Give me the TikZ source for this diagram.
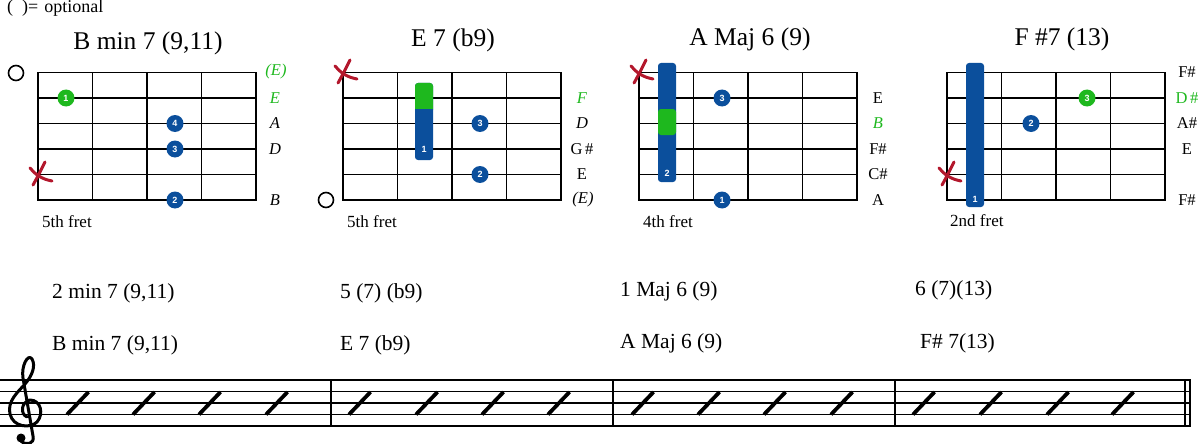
\documentclass[tikz,border=0pt]{standalone}
\usepackage{fontspec}
\setmainfont{Liberation Serif}
\setsansfont{Liberation Sans}
\definecolor{cblue}{HTML}{0B4F9C}
\definecolor{cgreen}{HTML}{1EB81E}
\definecolor{cred}{HTML}{B3172C}
\newcommand\fsz[1]{\fontsize{#1}{#1}\selectfont}
\tikzset{
 gridline/.style={line width=1.8pt, line cap=rect},
 fdot/.style={circle, fill=cblue, minimum size=17pt, inner sep=0pt, text=white, font=\sffamily\bfseries\fsz{9}},
 gdot/.style={fdot, fill=cgreen},
 barnum/.style={text=white, font=\sffamily\bfseries\fsz{9}, inner sep=0pt},
 slab/.style={font=\fsz{16.5}\itshape, inner sep=0pt},
 ulab/.style={font=\fsz{16.5}, inner sep=0pt},
 title/.style={font=\fsz{25.5}, inner sep=0pt},
 fretlab/.style={font=\fsz{17}, anchor=west, inner sep=0pt},
 chordlab/.style={font=\fsz{21.5}, anchor=west, inner sep=0pt},
 xmark/.style={draw=cred, line width=3pt, line cap=round},
 opencirc/.style={circle, draw, line width=1.6pt, minimum size=15pt, inner sep=0pt},
 staffline/.style={line width=1.2pt},
 barline/.style={line width=1.6pt},
 slashmark/.style={line width=3.8pt},
}
\newcommand\fretgrid[1]{%
 \foreach \i in {0,...,5} \draw[gridline] (#1,72.5+25.5*\i) -- (#1+218,72.5+25.5*\i);
 \foreach \j in {0,...,4} \draw[gridline] (#1+54.5*\j,72.5) -- (#1+54.5*\j,200);}
\newcommand\xmarkat[1]{%
 \begin{scope}[shift={#1}]
 \draw[xmark] (7,-12) .. controls (3,-4) and (-1,4) .. (-5,11);
 \draw[xmark] (-8,-6) .. controls (-3,0) and (3,5) .. (14,7);
 \end{scope}}
\begin{document}
\begin{tikzpicture}[x=1pt,y=-1pt]
\useasboundingbox (0,0) rectangle (1200,444);
\node[fretlab, font=\fsz{18}] (legend) at (7,8) {(\hspace{9pt})=\hspace{6pt}optional};
% ---------- diagram 1
\node[title] (t1) at (148,43) {B min 7 (9,11)};
\fretgrid{38}
\node[opencirc] (o1) at (16,73) {};
\xmarkat{(38,174)}
\node[gdot] (d1a) at (66,98) {1};
\node[fdot] (d1b) at (175,123.5) {4};
\node[fdot] (d1c) at (175,149) {3};
\node[fdot] (d1d) at (175,200) {2};
\node[slab,text=cgreen] (l1a) at (276,72) {(E)};
\node[slab,text=cgreen] (l1b) at (275,98) {E};
\node[slab] (l1c) at (275,123.5) {A};
\node[slab] (l1d) at (275,149) {D};
\node[slab] (l1f) at (275,200) {B};
\node[fretlab] (f1) at (42,222) {5th fret};
% ---------- diagram 2
\node[title] (t2) at (453,40) {E 7 (b9)};
\fretgrid{343}
\node[opencirc] (o2) at (326,200) {};
\xmarkat{(343,72)}
\fill[cblue, rounded corners=3pt] (415,83) rectangle (433,160);
\fill[cgreen, rounded corners=3pt] (415,83) rectangle (433,113);
\fill[cblue] (415,109) rectangle (433,116);
\node[barnum] (b2) at (424,149) {1};
\node[fdot] (d2a) at (480,123.5) {3};
\node[fdot] (d2b) at (480,174.5) {2};
\node[slab,text=cgreen] (l2b) at (582,98) {F};
\node[slab] (l2c) at (582,123.5) {D};
\node[ulab] (l2d) at (582,149) {G\,\#};
\node[ulab] (l2e) at (582,174.5) {E};
\node[slab] (l2f) at (583,200) {(E)};
\node[fretlab] (f2) at (347,222) {5th fret};
% ---------- diagram 3
\node[title] (t3) at (750,39) {A Maj 6 (9)};
\fretgrid{639}
\xmarkat{(639,72)}
\fill[cblue, rounded corners=3pt] (658,63) rectangle (676,182);
\fill[cgreen, rounded corners=3pt] (658,109) rectangle (676,135);
\node[barnum] (b3) at (667,173) {2};
\node[fdot] (d3a) at (722,98) {3};
\node[fdot] (d3b) at (722,200) {1};
\node[ulab] (l3b) at (878,98) {E};
\node[slab,text=cgreen] (l3c) at (878,123.5) {B};
\node[ulab] (l3d) at (878,149) {F\#};
\node[ulab] (l3e) at (878,174.5) {C\#};
\node[ulab] (l3f) at (878,200) {A};
\node[fretlab] (f3) at (643,222) {4th fret};
% ---------- diagram 4
\node[title] (t4) at (1062,39) {F \#7 (13)};
\fretgrid{947}
\xmarkat{(947,174)}
\fill[cblue, rounded corners=3pt] (966,63) rectangle (984,207);
\node[barnum] (b4) at (975,199) {1};
\node[gdot] (d4a) at (1087,98) {3};
\node[fdot] (d4b) at (1031,123.5) {2};
\node[ulab] (l4a) at (1187,72) {F\#};
\node[ulab,text=cgreen] (l4b) at (1187,98) {D\,\#};
\node[ulab] (l4c) at (1187,123.5) {A\#};
\node[ulab] (l4d) at (1187,149) {E};
\node[ulab] (l4f) at (1187,200) {F\#};
\node[fretlab] (f4) at (950,221) {2nd fret};
% ---------- chord names
\node[chordlab] (c1) at (52,293) {2 min 7 (9,11)};
\node[chordlab] (c2) at (340,293) {5 (7) (b9)};
\node[chordlab] (c3) at (620,291) {1 Maj 6 (9)};
\node[chordlab] (c4) at (915,290) {6 (7)(13)};
\node[chordlab] (n1) at (52,345) {B min 7 (9,11)};
\node[chordlab] (n2) at (340,345) {E 7 (b9)};
\node[chordlab] (n3) at (620,343) {A Maj 6 (9)};
\node[chordlab] (n4) at (920,343) {F\# 7(13)};
% ---------- staff
\foreach \k in {0,...,4} \draw[staffline] (0,380+11.5*\k) -- (1191,380+11.5*\k);
\foreach \bx in {331,613,895} \draw[barline] (\bx,380) -- (\bx,426);
\draw[barline] (1185,380) -- (1185,426);
\draw[line width=2.2pt] (1190,380) -- (1190,426);
\foreach \sx in {67,133,199,266,349,416,482,548,632,698,764,831,913,980,1047,1112}
  \draw[slashmark] (\sx,414.5) -- (\sx+21.5,392);
% treble clef
\draw[line width=3pt, line cap=round, line join=round]
 (27,417) .. controls (20,414) and (21,402) .. (30,400)
 .. controls (41,400) and (44,414) .. (37,422)
 .. controls (30,429) and (13,427) .. (10,414)
 .. controls (7,401) and (18,392) .. (25,384)
 .. controls (32,376) and (36,366) .. (32,359)
 .. controls (28,353) and (21,366) .. (23,378)
 -- (33,436)
 .. controls (35,444) and (26,446) .. (21,441);
\fill (21,438) circle (4.5);
\end{tikzpicture}
\end{document}
